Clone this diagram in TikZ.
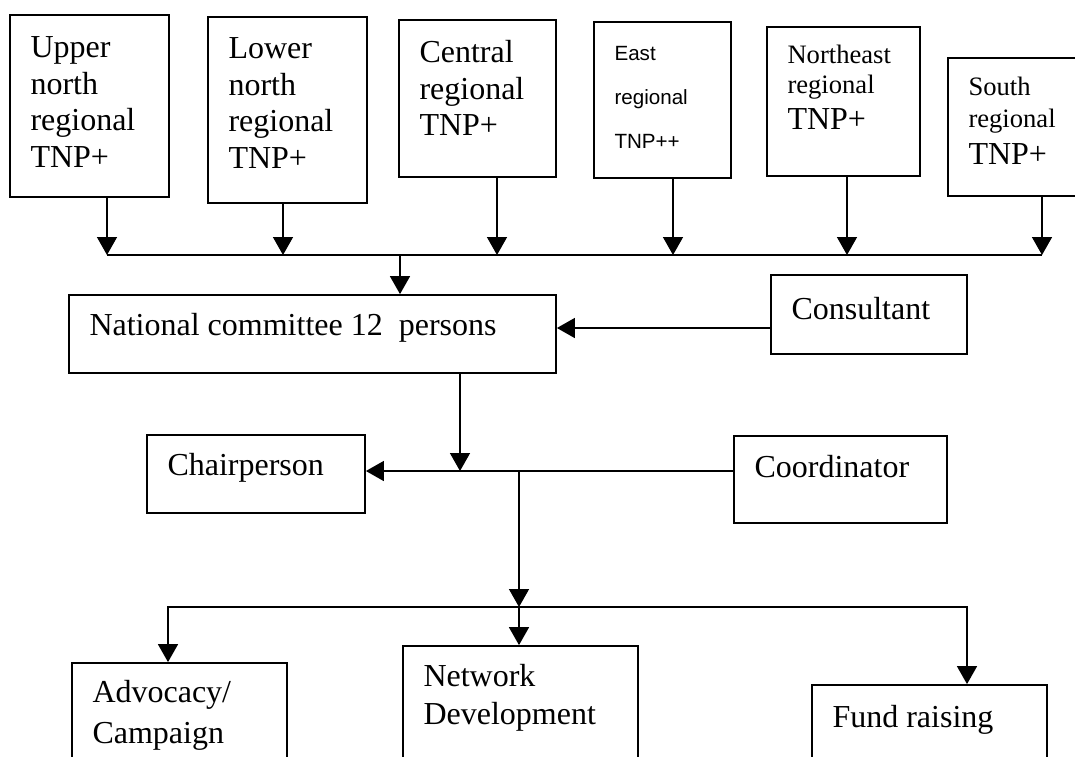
\documentclass[tikz,border=0pt]{standalone}
\usepackage{fontspec}
\setmainfont{Liberation Serif}
\newfontfamily\eastfont{Liberation Sans}
\usetikzlibrary{
	arrows.meta,
	fit
}

\tikzset{
    unit/.style={draw, line width=0.9pt, inner sep=0pt},
    txt/.style={anchor=north west, inner sep=0pt, align=left, font=\fontsize{16}{18.3}\selectfont},
    small/.style={txt, font=\fontsize{13.3}{15}\selectfont},
    link/.style={line width=0.75pt},
    feed/.style={link, -{Triangle[width=10pt, length=9pt]}},
    both/.style={link, {Triangle[width=10pt, length=9pt]}-{Triangle[width=10pt, length=9pt]}}
}

\begin{document}
\begin{tikzpicture}[x=0.5pt, y=-0.5pt]
    % Definitions
    \useasboundingbox (0,0) rectangle (1075,756);
    \clip (0,0) rectangle (1075,756);
    \fill[white] (0,0) rectangle (1075,756);
    \def \inset{21}
    %%%
    %%% Regional boxes
    %%%
    \node[unit, fit={(10,15) (169,197)}]    (upper) {};
    \node[unit, fit={(208,17) (367,203)}]   (lower) {};
    \node[unit, fit={(399,20) (556,177)}]   (central) {};
    \node[unit, fit={(594,22) (731,178)}]   (east) {};
    \node[unit, fit={(767,27) (920,176)}]   (northeast) {};
    \node[unit, fit={(948,58) (1090,196)}]  (south) {};
    % Regional texts
    \node[txt] (upper-t) at ([shift={(\inset,22)}]upper.north west) {Upper\\north\\regional\\TNP+};
    \node[txt] (lower-t) at ([shift={(\inset,21)}]lower.north west) {Lower\\north\\regional\\TNP+};
    \node[txt] (central-t) at ([shift={(\inset,21)}]central.north west) {Central\\regional\\TNP+};
    \node[txt, font=\eastfont\fontsize{10.3}{22}\selectfont] (east-t) at ([shift={(\inset,25)}]east.north west) {East\\regional\\TNP++};
    \node[small] (northeast-t) at ([shift={(\inset,19)}]northeast.north west) {Northeast\\regional\\[3pt]{\fontsize{16}{18}\selectfont TNP+}};
    \node[small, font=\fontsize{13.3}{16}\selectfont] (south-t) at ([shift={(\inset,20)}]south.north west) {South\\regional\\[2.5pt]{\fontsize{16}{18}\selectfont TNP+}};
    % Drops onto the bus
    \foreach \n/\x in {upper/107, lower/283, central/497, east/673, northeast/847, south/1042}
    {
        \coordinate (\n-in) at (\x,255);
        \draw[feed] (\n-in |- \n.south) -- (\n-in);
    }
    \draw[link] (upper-in) -- (south-in);
    %%%
    %%% Committee and staff
    %%%
    \node[unit, fit={(69,295) (556,373)}]   (national) {};
    \node[unit, fit={(771,275) (967,354)}]  (consultant) {};
    \node[unit, fit={(147,435) (365,513)}]  (chair) {};
    \node[unit, fit={(734,436) (947,523)}]  (coordinator) {};
    \node[txt] (national-t) at ([shift={(\inset,19)}]national.north west) {National committee 12~~persons};
    \node[txt] (consultant-t) at ([shift={(\inset,23)}]consultant.north west) {Consultant};
    \node[txt] (chair-t) at ([shift={(\inset,19)}]chair.north west) {Chairperson};
    \node[txt] (coordinator-t) at ([shift={(\inset,20)}]coordinator.north west) {Coordinator};
    % Bus to committee
    \coordinate (bus-out) at (400,255);
    \draw[feed] (bus-out) -- (bus-out |- national.north);
    \coordinate (cons-y) at (0,328);
    \draw[feed] (consultant.west |- cons-y) -- (national.east |- cons-y);
    % Committee to chairperson
    \coordinate (mid-in) at (460,471);
    \coordinate (mid-out) at (519,471);
    \draw[feed] (mid-in |- national.south) -- (mid-in);
    \draw[feed] (coordinator.west |- mid-in) -- (chair.east |- mid-in);
    %%%
    %%% Working groups
    %%%
    \node[unit, fit={(72,663) (287,770)}]   (advocacy) {};
    \node[unit, fit={(403,646) (638,770)}]  (network) {};
    \node[unit, fit={(812,685) (1047,770)}] (fund) {};
    \node[txt, font=\fontsize{16}{20.5}\selectfont] (advocacy-t) at ([shift={(\inset,18)}]advocacy.north west) {Advocacy/\\Campaign};
    \node[txt, font=\fontsize{16}{19}\selectfont] (network-t) at ([shift={(\inset,19)}]network.north west) {Network\\Development};
    \node[txt] (fund-t) at ([shift={(\inset,21)}]fund.north west) {Fund raising};
    % Lower bus
    \coordinate (low-in) at (519,607);
    \coordinate (low-w) at (168,607);
    \coordinate (low-e) at (967,607);
    \draw[feed] (mid-out) -- (low-in);
    \draw[feed] (low-in) -- (low-in |- network.north);
    \draw[both] (low-w |- advocacy.north) -- (low-w) -- (low-e) -- (low-e |- fund.north);
\end{tikzpicture}
\end{document}
